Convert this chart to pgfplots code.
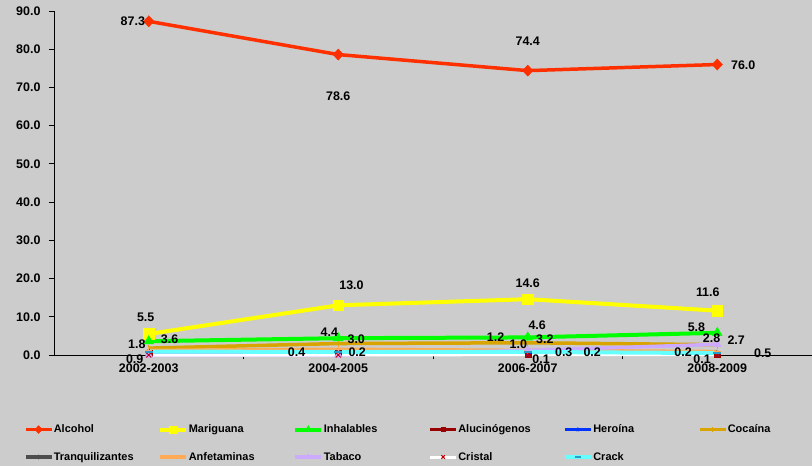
\documentclass[border=0pt]{standalone}
\usepackage{fontspec}
\setmainfont{Liberation Sans}
\usepackage{pgfplots}
\pgfplotsset{compat=1.18}
\definecolor{bg}{HTML}{CCCCCC}
\definecolor{calc}{HTML}{FF3000}
\definecolor{cmar}{HTML}{FFFF00}
\definecolor{cinh}{HTML}{00FF00}
\definecolor{calu}{HTML}{990000}
\definecolor{cher}{HTML}{0033FF}
\definecolor{ccoc}{HTML}{D9A400}
\definecolor{ctra}{HTML}{4D4D4D}
\definecolor{canf}{HTML}{FFAA55}
\definecolor{ctab}{HTML}{CCAAFF}
\definecolor{ccri}{HTML}{FFFFFF}
\definecolor{ccrk}{HTML}{66FFFF}
\newcommand{\lb}[1]{\makebox[104bp][l]{#1}}
\begin{document}
\begin{tikzpicture}
\fill[bg] (-54bp,-111bp) rectangle (758bp,355bp);
\useasboundingbox (-54bp,-111bp) rectangle (758bp,355bp);
\begin{axis}[
  at={(0,0)}, anchor=south west,
  width=758bp, height=344bp, scale only axis,
  xmin=-0.5, xmax=3.5, ymin=0, ymax=90,
  clip=false,
  axis lines=left,
  axis line style={-, black, line width=0.8bp},
  tick align=outside,
  xtick={0,1,2,3},
  xticklabels={2002-2003,2004-2005,2006-2007,2008-2009},
  major x tick style={draw=none},
  minor xtick={0.5,1.5,2.5},
  minor tick length=4bp,
  major tick length=5bp,
  tick style={black, line width=0.8bp},
  ytick={0,10,...,90},
  yticklabel style={xshift=-5bp, /pgf/number format/.cd, fixed, fixed zerofill, precision=1, assume math mode=true},
  tick label style={font=\bfseries\fontsize{12.5}{14}\selectfont},
  legend columns=6,
  legend style={at={(axis description cs:-0.044,-0.195)}, anchor=north west,
    draw=none, fill=none, column sep=0pt, row sep=17bp,
    font=\bfseries\fontsize{11}{13}\selectfont,
    nodes={inner sep=0.5bp}, cells={anchor=west}},
  legend image code/.code={\draw[mark repeat=2,mark phase=2, every mark/.append style={scale=0.7}] plot coordinates {(0bp,0bp) (13bp,0bp) (26bp,0bp)};},
]
\addplot[calc, line width=3.5bp, mark=diamond*, mark size=5.5bp, mark options={line width=0.5bp, xscale=1.25}] coordinates {(0,87.3) (1,78.6) (2,74.4) (3,76.0)};
\addlegendentry{\lb{Alcohol}}
\addplot[cmar, line width=4bp, mark=square*, mark size=5.3bp, mark options={line width=0.5bp}] coordinates {(0,5.5) (1,13.0) (2,14.6) (3,11.6)};
\addlegendentry{\lb{Mariguana}}
\addplot[cinh, line width=4bp, mark=triangle*, mark size=5.5bp, mark options={line width=0.5bp}] coordinates {(0,3.6) (1,4.4) (2,4.6) (3,5.8)};
\addlegendentry{\lb{Inhalables}}
\addplot[calu, line width=3.5bp, mark=square*, mark size=3bp, mark options={line width=0.5bp}] coordinates {(0,0.4) (1,0.4) (2,0.3) (3,0.2)};
\addlegendentry{\lb{Alucinógenos}}
\addplot[cher, line width=3.5bp, mark=star, mark size=3bp, mark options={line width=1bp}] coordinates {(0,0.1) (1,0.2) (2,0.2) (3,0.2)};
\addlegendentry{\lb{Heroína}}
\addplot[ccoc, line width=3.5bp, mark=|, mark size=3bp, mark options={line width=1bp}] coordinates {(0,1.8) (1,3.0) (2,3.2) (3,2.7)};
\addlegendentry{\lb{Cocaína}}
\addplot[ctra, line width=3.5bp, mark=diamond*, mark size=3bp, mark options={line width=0.5bp}] coordinates {(0,0.9) (1,0.9) (2,1.0) (3,0.5)};
\addlegendentry{\lb{Tranquilizantes}}
\addplot[canf, line width=3.5bp, mark=+, mark size=3.5bp, mark options={line width=1bp}] coordinates {(0,1.2) (1,1.5) (2,1.2) (3,0.9)};
\addlegendentry{\lb{Anfetaminas}}
\addplot[ctab, line width=3.5bp, mark=triangle*, mark size=4.5bp, mark options={line width=0.5bp}] coordinates {(0,0.0) (1,0.0) (2,1.2) (3,2.8)};
\addlegendentry{\lb{Tabaco}}
\addplot[ccri, line width=3bp, mark=x, mark size=3.5bp, mark options={color=red!75!black, line width=1bp}] coordinates {(0,0.0) (1,0.0) (2,0.1) (3,0.1)};
\addlegendentry{\lb{Cristal}}
\addplot[ccrk, line width=4bp, mark=-, mark size=4bp, mark options={color=cyan!60!teal, line width=2bp}] coordinates {(0,0.9) (1,0.8) (2,0.8) (3,0.5)};
\addlegendentry{\lb{Crack}}
\addplot[draw=none, mark=none, forget plot, nodes near coords, point meta=explicit symbolic,
  nodes near coords style={anchor=center, inner sep=0pt, text=black, font=\bfseries\fontsize{12.5}{14}\selectfont}]
  coordinates {
  (-0.084,87.4) [87.3]
  (1.0,67.8) [78.6]
  (2.0,82.2) [74.4]
  (3.137,75.9) [76.0]
  (-0.016,9.9) [5.5]
  (1.07,18.3) [13.0]
  (2.0,18.8) [14.6]
  (2.95,16.5) [11.6]
  (0.11,4.2) [3.6]
  (-0.063,2.9) [1.8]
  (-0.074,-1.0) [0.9]
  (0.953,6.0) [4.4]
  (1.095,4.2) [3.0]
  (0.78,0.8) [0.4]
  (1.10,0.8) [0.2]
  (2.05,7.8) [4.6]
  (1.83,4.7) [1.2]
  (2.09,4.2) [3.2]
  (1.95,2.9) [1.0]
  (2.07,-1.0) [0.1]
  (2.19,0.8) [0.3]
  (2.34,0.8) [0.2]
  (2.89,7.3) [5.8]
  (2.97,4.4) [2.8]
  (3.10,3.9) [2.7]
  (2.82,0.8) [0.2]
  (2.92,-1.0) [0.1]
  (3.24,0.5) [0.5]
  };
\end{axis}
\end{tikzpicture}
\end{document}
